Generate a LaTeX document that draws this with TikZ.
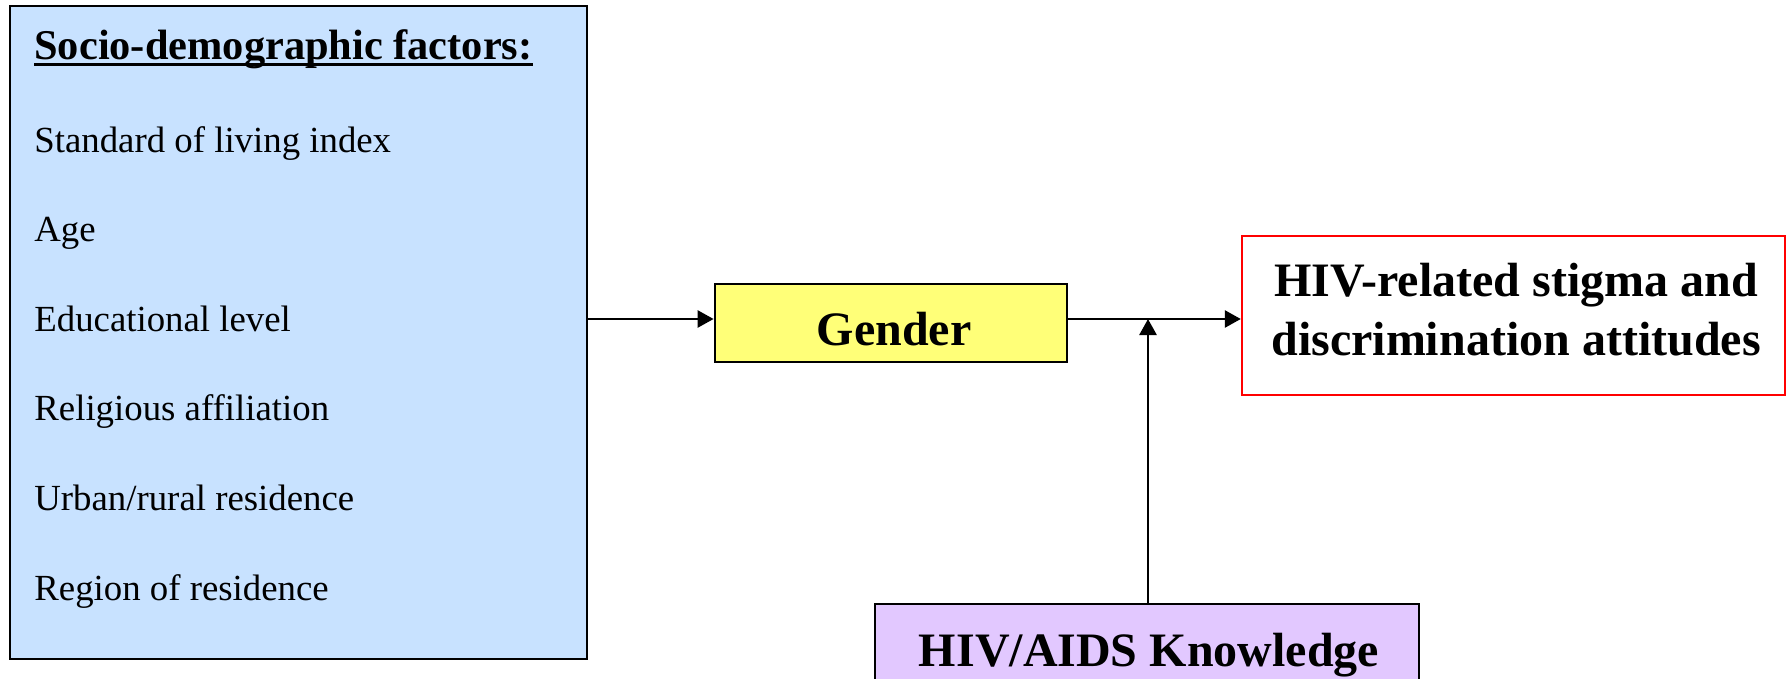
\documentclass[tikz,border=0pt]{standalone}
\usepackage{fontspec}
\setmainfont{Liberation Serif}
\usetikzlibrary{arrows.meta}
\definecolor{sociofill}{RGB}{200,226,255}
\definecolor{genderfill}{RGB}{255,255,120}
\definecolor{knowfill}{RGB}{226,200,255}
\definecolor{stigmared}{RGB}{255,0,0}
\tikzset{
  box/.style={draw=black, line width=1.4pt, rectangle, inner sep=0pt},
  item/.style={anchor=base west, inner sep=0pt, font=\fontsize{18.4}{22}\selectfont},
  bigtext/.style={inner sep=0pt, font=\fontsize{24}{29}\selectfont\bfseries},
  arr/.style={line width=1.3pt, -{Triangle[length=8pt,width=8.5pt]}}
}
\begin{document}
\begin{tikzpicture}[x=0.5pt,y=-0.5pt]
\useasboundingbox (0,0) rectangle (1787,679);
\clip (0,0) rectangle (1787,679);
% boxes
\node[box, fill=sociofill, minimum width=288.5pt, minimum height=326.5pt] (socio) at (298.5,332.5) {};
\node[box, fill=genderfill, minimum width=176pt, minimum height=39pt] (gender) at (891,323) {};
\node[box, draw=stigmared, line width=1.2pt, fill=white, minimum width=271.5pt, minimum height=79.5pt] (stigma) at (1513.5,315.5) {};
\node[box, fill=knowfill, minimum width=272pt, minimum height=60pt] (know) at (1147,664) {};
% left box texts
\node[anchor=base west, inner sep=0pt, font=\fontsize{21.2}{25}\selectfont\bfseries] (title) at (34,60) {Socio-demographic factors:};
\draw[line width=1.3pt] ([yshift=-2.4pt]title.base west) -- ([yshift=-2.4pt]title.base east);
\node[item] (i1) at (34,153) {Standard of living index};
\node[item] (i2) at (34,242) {Age};
\node[item] (i3) at (34,331) {Educational level};
\node[item] (i4) at (34,420) {Religious affiliation};
\node[item] (i5) at (34,510) {Urban/rural residence};
\node[item] (i6) at (34,600) {Region of residence};
% other texts
\node[bigtext, anchor=base] (gtext) at (894,345) {Gender};
\node[bigtext, anchor=base] (s1) at (1516,296) {HIV-related stigma and};
\node[bigtext, anchor=base] (s2) at (1516,355) {discrimination attitudes};
\node[bigtext, anchor=base] (ktext) at (1149,666) {HIV/AIDS Knowledge};
% connectors
\coordinate (meet) at (1148,319);
\draw[arr] (socio.east |- meet) -- (gender.west |- meet);
\draw[arr] (gender.east |- meet) -- (stigma.west |- meet);
\draw[arr] (know.north -| meet) -- (meet);
\end{tikzpicture}
\end{document}
